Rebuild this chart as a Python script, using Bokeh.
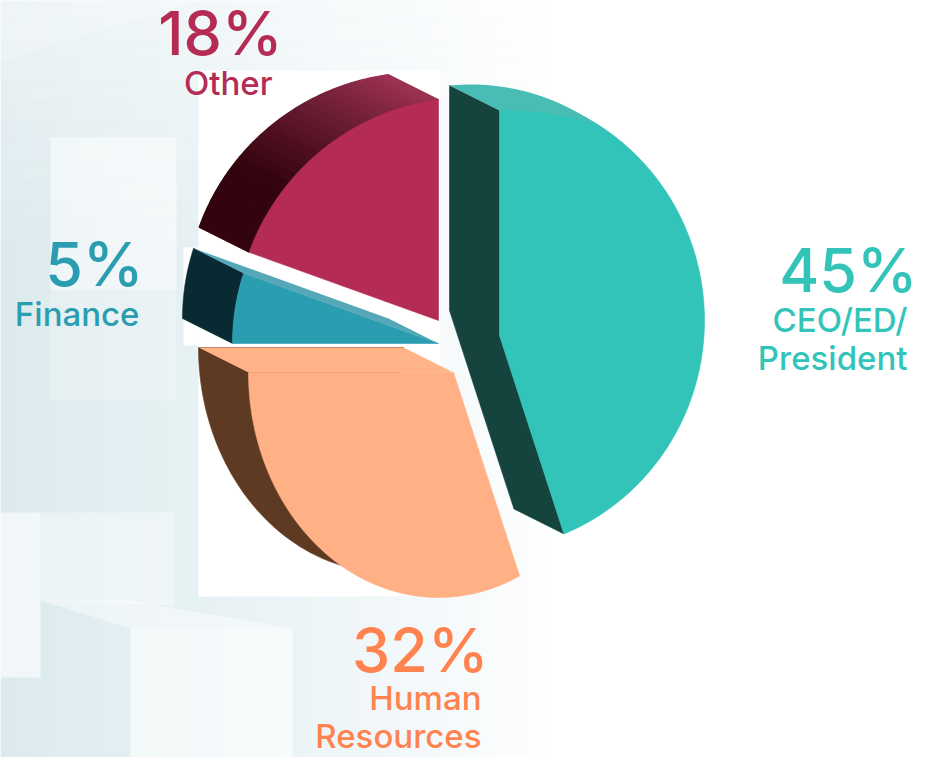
import math
from bokeh.embed import file_html
from bokeh.models import Range1d
from bokeh.plotting import figure
from bokeh.resources import INLINE
from bokeh.core.properties import value

# Data ---------------------------------------------------------------
categories = ["CEO/ED/President", "Human Resources", "Finance", "Other"]
printed_percent = [45, 32, 5, 18]          # numbers printed beside the slices
drawn_share = [45.0, 30.0, 5.5, 19.5]      # slice sweeps
label_lines = [["CEO/ED/", "President"], ["Human", "Resources"], ["Finance"], ["Other"]]
label_colors = ["#33c4b9", "#ff824f", "#2b9db1", "#b42b54"]

# Style / layout -----------------------------------------------------
FACE = ["#33c4b9", "#ffb085", "#2b9db1", "#b42b54"]
SIDE = ["#15443f", "#5f3a22", "#082b33", "#33040f"]
SHIFT = (-50, -25)
APEX = [(499, 335), (453, 372), (438, 343), (438, 320)]
ELLIPSE = [(480, 320, 224, 230), (438, 372, 190, 225), (450, 343, 218, 223), (470, 330, 235, 233)]
BIG_FONT = "Inter Medium"
SMALL_FONT = "Inter Medium"
BIG_SIZE = 61
SMALL_SIZE = 33

p = figure(width=926, height=757, output_backend="svg", toolbar_location=None,
           x_range=Range1d(0, 926), y_range=Range1d(757, 0), min_border=0)
p.axis.visible = False
p.grid.visible = False
p.outline_line_color = None
p.background_fill_color = "white"


def mix(a, b, t):
    ca = [int(a[i:i + 2], 16) for i in (1, 3, 5)]
    cb = [int(b[i:i + 2], 16) for i in (1, 3, 5)]
    return "#%02x%02x%02x" % tuple(round(u + (v - u) * t) for u, v in zip(ca, cb))


def rim(i, deg, shifted=False):
    """Where the ray at deg (clockwise from top) from slice i's apex meets its ellipse."""
    ax, ay = APEX[i]
    cx, cy, rx, ry = ELLIPSE[i]
    dx, dy = math.sin(math.radians(deg)), -math.cos(math.radians(deg))
    ox, oy = (ax - cx) / rx, (ay - cy) / ry
    ux, uy = dx / rx, dy / ry
    A, B, C = ux * ux + uy * uy, 2 * (ox * ux + oy * uy), ox * ox + oy * oy - 1
    t = (-B + math.sqrt(B * B - 4 * A * C)) / (2 * A)
    x, y = ax + t * dx, ay + t * dy
    return (x + SHIFT[0], y + SHIFT[1]) if shifted else (x, y)


def arc(i, a0, a1, shifted=False, n=60):
    return [rim(i, a0 + (a1 - a0) * k / n, shifted) for k in range(n + 1)]


def poly(pts, color, alpha=1.0, line=True, lw=0.6):
    p.patch([q[0] for q in pts], [q[1] for q in pts], fill_color=color, fill_alpha=alpha,
            line_color=color if line else None, line_width=lw, line_alpha=alpha)


def ell_y(cx, cy, rx, ry, x):
    return cy - ry * math.sqrt(max(0, 1 - ((x - cx) / rx) ** 2))


# Background ---------------------------------------------------------
STOPS = [(0, "#dceaee"), (200, "#e7f1f4"), (400, "#f3f8fa"), (560, "#ffffff")]
for x in range(0, 560, 10):
    for (x0, c0), (x1, c1) in zip(STOPS, STOPS[1:]):
        if x0 <= x < x1:
            col = mix(c0, c1, (x - x0) / (x1 - x0))
    p.quad(left=x, right=x + 10.5, top=0, bottom=757, fill_color=col, line_color=None)
for k in range(12):
    p.quad(left=0, right=560, top=k * 20, bottom=(k + 1) * 20, fill_color="white",
           fill_alpha=0.45 * (1 - k / 12), line_color=None)
poly([(0, 60), (200, 0), (0, 0)], "#ffffff", 0.2, False)
poly([(50, 137), (176, 137), (176, 290), (50, 290)], "#ffffff", 0.5, False)
poly([(50, 290), (176, 290), (176, 400), (50, 400)], "#ffffff", 0.22, False)
poly([(0, 512), (40, 512), (40, 677), (0, 677)], "#ffffff", 0.6, False)
poly([(40, 512), (174, 512), (174, 605), (40, 600)], "#ffffff", 0.4, False)
poly([(40, 600), (130, 600), (292, 628), (130, 628)], "#ffffff", 0.45, False)
poly([(130, 628), (292, 628), (292, 757), (130, 757)], "#ffffff", 0.6, False)
poly([(198, 70), (440, 70), (440, 596), (198, 596)], "#ffffff", 1, False)
poly([(183, 247), (198, 247), (198, 345), (183, 345)], "#ffffff", 1, False)

# Slices -------------------------------------------------------------
edges = [0.0]
for s in drawn_share:
    edges.append(edges[-1] + s * 3.6)

# CEO
i = 0
a0, a1 = edges[0], edges[1]
apex = APEX[i]
sapex = (apex[0] + SHIFT[0], apex[1] + SHIFT[1])
corner_face = (apex[0], 110)
corner_back = (corner_face[0] + SHIFT[0], corner_face[1] + SHIFT[1])
end = rim(i, a1)
send = (end[0] + SHIFT[0], end[1] + SHIFT[1])
poly([corner_back, corner_face, apex, end, send, sapex], SIDE[i])
poly([apex] + arc(i, a0, a1), FACE[i])
xs = list(range(corner_back[0] + 4, 597, 4))
top = [(x, ell_y(470, 314, 224, 230, x)) for x in xs]
low = [(x, ell_y(505, 330, 260, 220, x)) for x in reversed(xs) if x >= corner_face[0]]
poly([corner_back] + top + low + [corner_face], "#49bdb4", 1, False)

# Human Resources
i = 1
a0, a1 = edges[1], edges[2]
apex = APEX[i]
sapex = (apex[0] + SHIFT[0], apex[1] + SHIFT[1])
poly([sapex] + arc(i, 190, a1, True), SIDE[i])
poly([apex] + arc(i, a0, a1), FACE[i])
e = rim(i, a1)
poly([sapex, (e[0] + SHIFT[0], e[1] + SHIFT[1]), e, apex], "#ffb387", 1, False)

# Finance
i = 2
a0, a1 = edges[2], edges[3]
apex = APEX[i]
sapex = (apex[0] + SHIFT[0], apex[1] + SHIFT[1])
poly(arc(i, a0, a1, True, 12) + arc(i, a1, a0, False, 12), SIDE[i])
poly([apex] + arc(i, a0, a1), FACE[i])
s = rim(i, a1, True)
poly([s, sapex, apex, rim(i, a1)], "#56a8b9", 1, False)

# Other
i = 3
a0, a1 = edges[3], edges[4]
apex = APEX[i]
bands = 24
for b in range(bands):
    t0 = a0 + (a1 - a0) * b / bands
    t1 = a0 + (a1 - a0) * (b + 1) / bands
    c = mix(SIDE[i], "#9b3150", max(0, (b / (bands - 1) - 0.3) / 0.7))
    poly(arc(i, t0, t1, True, 6) + arc(i, t1, t0, False, 6), c, lw=1.2)
poly([apex] + arc(i, a0, a1), FACE[i])

# Labels -------------------------------------------------------------
BIG = [(917, 291), (488, 671), (143, 285), (282, 54)]
LINES = [[(907, 331), (907, 369)], [(481, 709), (481, 747)], [(139, 325)], [(272, 94)]]
for i in range(4):
    p.text([BIG[i][0]], [BIG[i][1] - 0.36 * BIG_SIZE], text=[f"{printed_percent[i]}%"],
           text_color=label_colors[i], text_font=value(BIG_FONT), text_font_size=f"{BIG_SIZE}px",
           text_align="right", text_baseline="middle")
    for (x, y), line in zip(LINES[i], label_lines[i]):
        p.text([x], [y - 0.36 * SMALL_SIZE], text=[line], text_color=label_colors[i],
               text_font=value(SMALL_FONT), text_font_size=f"{SMALL_SIZE}px", text_align="right",
               text_baseline="middle")

open("out.html", "w").write(file_html(p, INLINE))
